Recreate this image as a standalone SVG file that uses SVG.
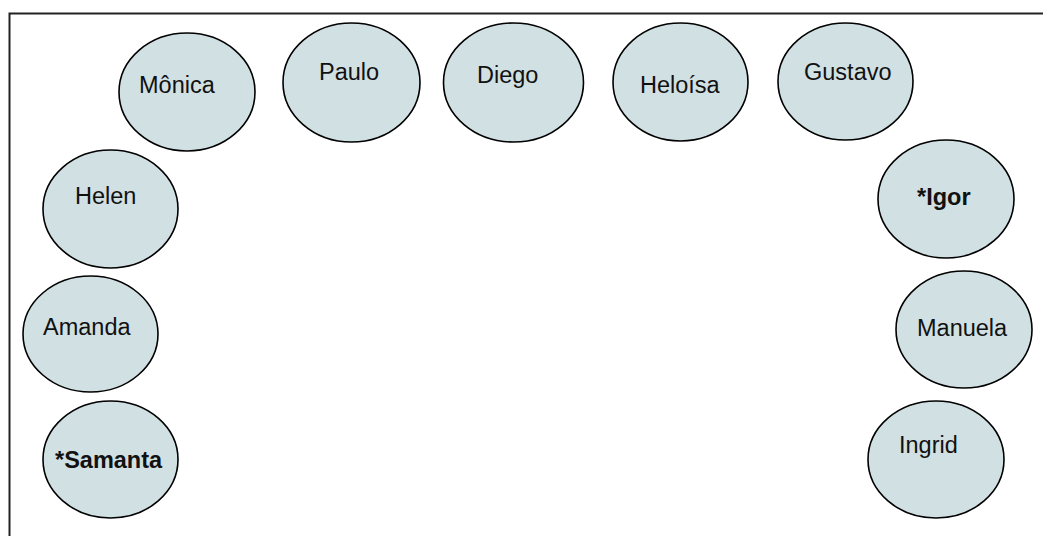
<svg xmlns="http://www.w3.org/2000/svg" width="1043" height="536" viewBox="0 0 1043 536">
  <style>
    .seat { fill: #d1e0e3; stroke: #000; stroke-width: 1.6; }
    .name { font-family: "Liberation Sans", Arial, sans-serif; font-size: 23.5px; fill: #111; }
    .lead { font-weight: bold; }
  </style>
  <rect x="0" y="0" width="1043" height="536" fill="#fff"/>
  <!-- room outline (top and left walls) -->
  <path d="M9.5,536 V13.5 H1043" fill="none" stroke="#222" stroke-width="2"/>
  <g id="connectors"/>
  <g id="monica"><ellipse class="seat" cx="187" cy="92" rx="68" ry="59"/><text class="name" x="139" y="93">Mônica</text></g>
  <g id="paulo"><ellipse class="seat" cx="351.5" cy="82.5" rx="68.5" ry="59.5"/><text class="name" x="319" y="80">Paulo</text></g>
  <g id="diego"><ellipse class="seat" cx="513.5" cy="82.5" rx="70" ry="59.5"/><text class="name" x="477" y="83">Diego</text></g>
  <g id="heloisa"><ellipse class="seat" cx="680.5" cy="82" rx="67.5" ry="59"/><text class="name" x="640" y="93">Heloísa</text></g>
  <g id="gustavo"><ellipse class="seat" cx="845.5" cy="81.5" rx="67.5" ry="58.5"/><text class="name" x="804" y="80">Gustavo</text></g>
  <g id="helen"><ellipse class="seat" cx="110.5" cy="209" rx="67.5" ry="59"/><text class="name" x="75" y="204">Helen</text></g>
  <g id="igor"><ellipse class="seat" cx="946" cy="199" rx="68" ry="59"/><text class="name lead" x="917" y="205">*Igor</text></g>
  <g id="amanda"><ellipse class="seat" cx="90.5" cy="334" rx="67.5" ry="58"/><text class="name" x="43" y="335">Amanda</text></g>
  <g id="manuela"><ellipse class="seat" cx="964" cy="329.5" rx="68" ry="58.5"/><text class="name" x="917" y="336">Manuela</text></g>
  <g id="samanta"><ellipse class="seat" cx="110.5" cy="459.5" rx="67.5" ry="58.5"/><text class="name lead" x="55" y="468">*Samanta</text></g>
  <g id="ingrid"><ellipse class="seat" cx="936" cy="459.5" rx="68" ry="58.5"/><text class="name" x="899" y="453">Ingrid</text></g>
</svg>
